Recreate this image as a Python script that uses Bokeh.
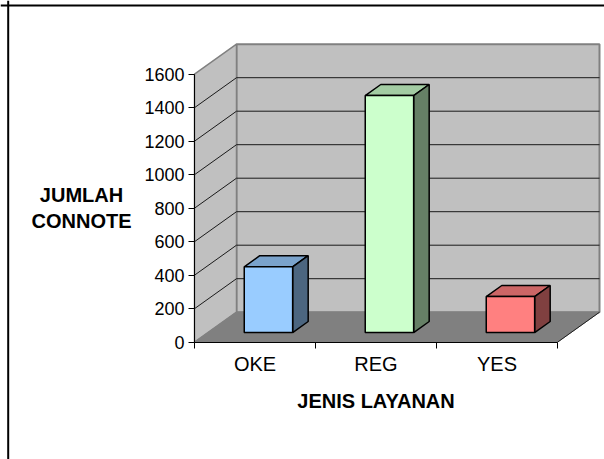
from bokeh.plotting import figure
from bokeh.models import ColumnDataSource, LinearAxis, FixedTicker, Range1d, Span
from bokeh.core.properties import value
from bokeh.embed import file_html
from bokeh.resources import INLINE

# ---- data ----
categories = ["OKE", "REG", "YES"]
counts = [393, 1415, 215]
y_ticks = [0, 200, 400, 600, 800, 1000, 1200, 1400, 1600]
front_colors = ["#99CCFF", "#CCFFCC", "#FF8080"]
top_colors = ["#7AA3CC", "#A3CCA3", "#CC6666"]
side_colors = ["#4C6680", "#668066", "#804040"]
x_title = "JENIS LAYANAN"
y_title = ["JUMLAH", "CONNOTE"]

# ---- layout constants (pixels) ----
W, H = 604, 459
PAGE = 0
X0 = 194 - PAGE          # figure px of category boundary 0
UX = 121.0               # px per category
Y0 = 341.7 - PAGE        # figure px (from top) of value 0
PV = 33.5 / 200.0        # px per value unit
FONT = "Liberation Sans"

def dx(px):
    return (px - X0) / UX

def dy(px):
    return (Y0 - px) / PV

DX = 42 / UX             # depth offset in category units
DY = 30 / PV             # depth offset in value units
F_FRONT, F_BACK = 0.32, 0.69
BAR_L, BAR_R = 0.3, 0.7
vmax = y_ticks[-1]
ncat = len(categories)

p = figure(width=W, height=H, output_backend="svg", toolbar_location=None,
           x_axis_type=None, y_axis_type=None,
           x_range=Range1d(dx(0), dx(W)), y_range=Range1d(dy(H), dy(0)),
           min_border=0, min_border_left=0, min_border_right=0,
           min_border_top=0, min_border_bottom=0)
p.outline_line_color = None
p.background_fill_color = "white"
p.border_fill_color = "white"

# back wall
p.quad(left=[DX], right=[ncat + DX], bottom=[DY], top=[vmax + DY],
       fill_color="#C0C0C0", line_color="#808080", line_width=2)
# left wall
p.patch(x=[0, DX, DX, 0], y=[0, DY, vmax + DY, vmax],
        fill_color="#C0C0C0", line_color="#808080", line_width=1.5)
# gridlines
gl = [t for t in y_ticks if 0 < t < vmax]
p.segment(x0=[DX] * len(gl), y0=[t + DY for t in gl],
          x1=[ncat + DX] * len(gl), y1=[t + DY for t in gl],
          line_color="#1A1A1A", line_width=1)
p.segment(x0=[0] * len(gl), y0=gl, x1=[DX] * len(gl), y1=[t + DY for t in gl],
          line_color="#1A1A1A", line_width=1)
# floor
p.patch(x=[0, ncat, ncat + DX, DX], y=[0, 0, DY, DY],
        fill_color="#808080", line_color="#808080", line_width=1)
p.segment(x0=[ncat], y0=[0], x1=[ncat + DX], y1=[DY], line_color="#202020", line_width=1)

# bars
fx, fy = F_FRONT * DX, F_FRONT * DY
bx, by = F_BACK * DX, F_BACK * DY
top_xs, top_ys, side_xs, side_ys = [], [], [], []
lefts, rights, bottoms, tops = [], [], [], []
for i, v in enumerate(counts):
    L, R = i + BAR_L, i + BAR_R
    top_xs.append([L + fx, R + fx, R + bx, L + bx])
    top_ys.append([v + fy, v + fy, v + by, v + by])
    side_xs.append([R + fx, R + bx, R + bx, R + fx])
    side_ys.append([fy, by, v + by, v + fy])
    lefts.append(L + fx); rights.append(R + fx)
    bottoms.append(fy); tops.append(v + fy)

src = ColumnDataSource(dict(top_xs=top_xs, top_ys=top_ys, side_xs=side_xs, side_ys=side_ys,
                            left=lefts, right=rights, bottom=bottoms, top=tops,
                            fc=front_colors, tc=top_colors, sc=side_colors, cat=categories,
                            val=counts))
p.patches(xs="top_xs", ys="top_ys", source=src, fill_color="tc", line_color="black", line_width=1.5)
p.patches(xs="side_xs", ys="side_ys", source=src, fill_color="sc", line_color="black", line_width=1.5)
p.quad(left="left", right="right", bottom="bottom", top="top", source=src,
       fill_color="fc", line_color="black", line_width=1.5)

# y axis
yax = LinearAxis(fixed_location=0, bounds=(0, vmax), ticker=FixedTicker(ticks=y_ticks, minor_ticks=[]))
yax.axis_line_color = "black"
yax.major_tick_out = 6
yax.major_tick_in = 0
yax.major_tick_line_color = "black"
yax.minor_tick_line_color = None
yax.major_label_standoff = 4
yax.major_label_text_font = FONT
yax.major_label_text_font_size = "18px"
yax.major_label_text_color = "black"
p.add_layout(yax, "left")

# x axis
xax = LinearAxis(fixed_location=0, bounds=(0, ncat),
                 ticker=FixedTicker(ticks=[i + 0.5 for i in range(ncat)],
                                    minor_ticks=list(range(ncat + 1))))
xax.major_label_overrides = {i + 0.5: c for i, c in enumerate(categories)}
xax.axis_line_color = "black"
xax.major_tick_out = 0
xax.major_tick_in = 0
xax.major_tick_line_color = None
xax.minor_tick_out = 6
xax.minor_tick_in = 0
xax.minor_tick_line_color = "black"
xax.major_label_standoff = 5
xax.major_label_text_font = FONT
xax.major_label_text_font_size = "20px"
xax.major_label_text_color = "black"
xax.axis_label = x_title
xax.axis_label_text_font = FONT
xax.axis_label_text_font_size = "20px"
xax.axis_label_text_font_style = "bold"
xax.axis_label_text_color = "black"
xax.axis_label_standoff = 11
p.add_layout(xax, "below")

# y title
p.text(x=[dx(81 - PAGE)] * 2, y=[dy(194 - PAGE), dy(220 - PAGE)], text=y_title,
       text_font=value(FONT), text_font_size="20px", text_font_style="bold",
       text_align="center", text_baseline="middle", text_color="black")

# outer border (left & top)
p.add_layout(Span(location=dx(7.7 - PAGE), dimension="height", line_color="black", line_width=2))
p.add_layout(Span(location=dy(4.9 - PAGE), dimension="width", line_color="black", line_width=2))

open("out.html", "w").write(file_html(p, INLINE))
